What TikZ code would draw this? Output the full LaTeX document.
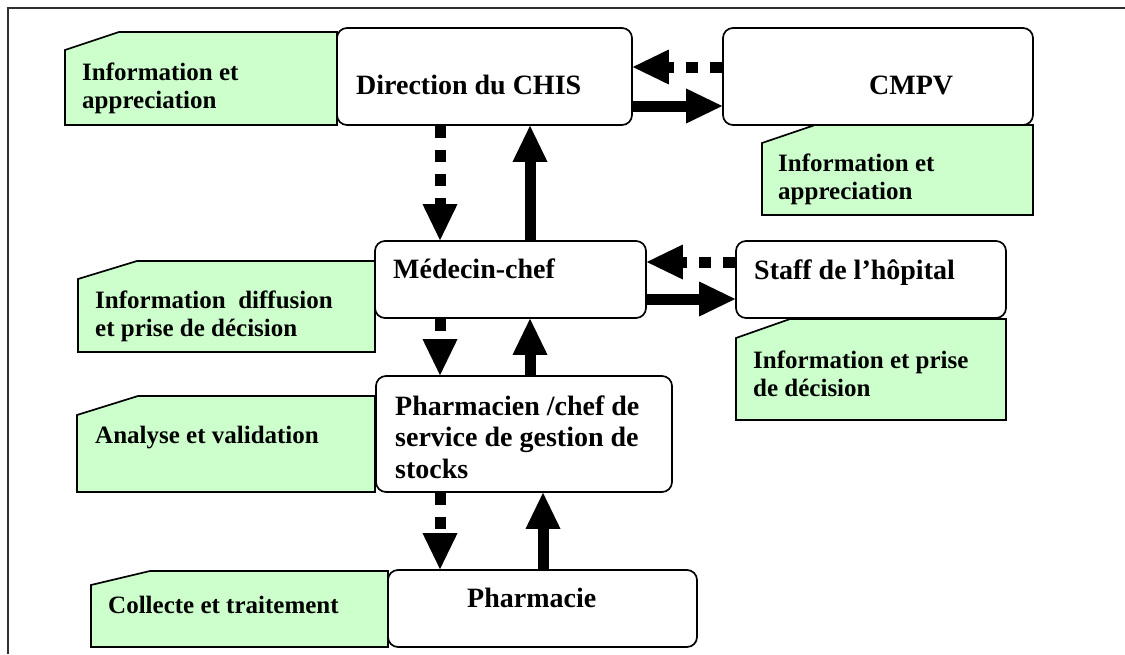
\documentclass[tikz,border=0pt]{standalone}
\usepackage{fontspec}
\setmainfont{Liberation Serif}
\usetikzlibrary{arrows.meta}
\definecolor{notegreen}{HTML}{CCFFCC}
\definecolor{framegray}{HTML}{303030}

\begin{document}
\begin{tikzpicture}[x=1pt,y=-1pt,
  box/.style={draw, line width=1.7pt, rounded corners=10pt, fill=white, inner sep=0pt},
  note/.style={draw, line width=1.7pt, fill=notegreen},
  % multi-line texts are anchored on the baseline of their last line
  boxtext/.style={anchor=base west, inner sep=0pt, align=left,
    font=\fontsize{28}{31.5}\selectfont\bfseries},
  notetext/.style={anchor=base west, inner sep=0pt, align=left,
    font=\fontsize{25}{28}\selectfont\bfseries},
  flow/.style={line width=11pt,
    -{Triangle[length=36pt,width=35pt,line width=0pt]}},
  back/.style={flow, dash pattern=on 12pt off 12pt},
]
\useasboundingbox (0,0) rectangle (1125,654);
\fill[white] (0,0) rectangle (1125,654);

% outer frame
\draw[framegray, line width=1.6pt] (8,654) -- (8,8) -- (1125,8);

% green notes
\draw[note] (65,125) -- (65,50) -- (119,32) -- (337,32) -- (337,125) -- cycle;
\draw[note] (762,215) -- (762,143) -- (815,125) -- (1033,125) -- (1033,215) -- cycle;
\draw[note] (78,352) -- (78,279) -- (137,261) -- (375,261) -- (375,352) -- cycle;
\draw[note] (736,420) -- (736,338) -- (790,319) -- (1006,319) -- (1006,420) -- cycle;
\draw[note] (77,492) -- (77,415) -- (138,396) -- (375,396) -- (375,492) -- cycle;
\draw[note] (91,647) -- (91,585) -- (150,571) -- (388,571) -- (388,647) -- cycle;

% boxes
\node[box, minimum width=295pt, minimum height=97pt] (dir) at (484.5,76.5) {};
\node[box, minimum width=310pt, minimum height=97pt] (cmpv) at (878,76.5) {};
\node[box, minimum width=271pt, minimum height=77pt] (med) at (510.5,279.5) {};
\node[box, minimum width=270pt, minimum height=77pt] (staff) at (871,279.5) {};
\node[box, minimum width=296pt, minimum height=116pt] (pharm) at (524,434) {};
\node[box, minimum width=309pt, minimum height=77pt] (pcie) at (542.5,608.5) {};

% box texts
\node[boxtext] (dirt) at (356,94) {Direction du CHIS};
\node[boxtext] (cmpvt) at (869,94) {CMPV};
\node[boxtext] (medt) at (393,278) {Médecin-chef};
\node[boxtext] (stafft) at (754,279) {Staff de l’hôpital};
\node[boxtext] (pharmt) at (395,478) {Pharmacien /chef de\\service de gestion de\\stocks};
\node[boxtext] (pciet) at (467,607) {Pharmacie};

% note texts
\node[notetext] (n1) at (82,108) {Information et\\appreciation};
\node[notetext] (n2) at (778,199) {Information et\\appreciation};
\node[notetext] (n3) at (95,336) {Information~~diffusion\\et prise de décision};
\node[notetext] (n4) at (753,396) {Information et prise\\de décision};
\node[notetext] (n5) at (95,443) {Analyse et validation};
\node[notetext] (n6) at (108,613) {Collecte et traitement};

% arrow lanes
\coordinate (down) at (440,0);
\coordinate (up) at (530,0);
\coordinate (uplow) at (543,0);
\coordinate (rowa) at (0,67);
\coordinate (rowb) at (0,106);
\coordinate (rowc) at (0,262);
\coordinate (rowd) at (0,299);

% vertical flows
\draw[back] (dir.south -| down) -- (med.north -| down);
\draw[flow] (med.north -| up) -- (dir.south -| up);
\draw[back] (med.south -| down) -- (pharm.north -| down);
\draw[flow] (pharm.north -| up) -- (med.south -| up);
\draw[back] (pharm.south -| down) -- (pcie.north -| down);
\draw[flow] (pcie.north -| uplow) -- (pharm.south -| uplow);

% horizontal flows
\draw[back] (cmpv.west |- rowa) -- (dir.east |- rowa);
\draw[flow] (dir.east |- rowb) -- (cmpv.west |- rowb);
\draw[back] (staff.west |- rowc) -- (med.east |- rowc);
\draw[flow] (med.east |- rowd) -- (staff.west |- rowd);
\end{tikzpicture}
\end{document}
